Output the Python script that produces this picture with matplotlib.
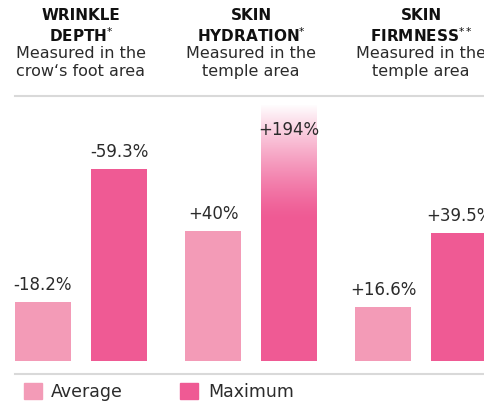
import numpy as np
import matplotlib.pyplot as plt
from matplotlib.patches import Patch
from matplotlib.lines import Line2D

plt.rcParams['font.family'] = ['DejaVu Sans']

# chart data
headers = ['WRINKLE\nDEPTH$^{*}$', 'SKIN\nHYDRATION$^{*}$', 'SKIN\nFIRMNESS$^{**}$']
subtitles = ['Measured in the\ncrow\u2018s foot area', 'Measured in the\ntemple area',
             'Measured in the\ntemple area']
average = [18.2, 40.0, 16.6]
maximum = [59.3, 194.0, 39.5]
avg_labels = ['-18.2%', '+40%', '+16.6%']
max_labels = ['-59.3%', '+194%', '+39.5%']

c_avg = '#F39BB7'
c_max = '#EF5A94'
txt = '#2b2b2b'
grid = '#d9d9d9'

fig = plt.figure(figsize=(4.85, 4.01), dpi=100)
ax = fig.add_axes([15 / 485, 40 / 401, 470 / 485, 257 / 401])
ymax = 79.3
ax.set_xlim(-0.388, 2.376)
ax.set_ylim(0, ymax)
ax.axis('off')

x = np.arange(len(average))
w = 0.329
off = 0.447 / 2
ax.bar(x - off, average, w, color=c_avg)
ax.bar(x + off, maximum, w, color=c_max)

lab = dict(ha='center', va='baseline', fontsize=12, color=txt,
           textcoords='offset points', zorder=4)
for i in range(len(x)):
    ax.annotate(avg_labels[i], (x[i] - off, average[i]), xytext=(0, 8.6), **lab)
    if maximum[i] < ymax:
        ax.annotate(max_labels[i], (x[i] + off, maximum[i]), xytext=(0, 8.6), **lab)
    else:
        # bar runs off the top: fade it out to white
        lo = 0.55 * ymax
        grad = np.zeros((100, 1, 4))
        grad[..., :3] = 1.0
        grad[:, 0, 3] = np.linspace(0, 1, 100) ** 1.3
        ax.imshow(grad, extent=(x[i] + off - w / 2, x[i] + off + w / 2, lo, ymax),
                  origin='lower', aspect='auto', zorder=3, interpolation='bilinear')
        ax.set_xlim(-0.388, 2.376)
        ax.set_ylim(0, ymax)
        ax.annotate(max_labels[i], (x[i] + off, ymax), xytext=(0, -22), **lab)

# headers above the chart
for i in range(len(x)):
    xf = ax.transData.transform((x[i], 0))[0] / fig.bbox.width
    fig.text(xf, 1 - 8 / 401, headers[i], ha='center', va='top', fontsize=11,
             fontweight='bold', color='#111111', linespacing=1.22)
    fig.text(xf, 1 - 46.5 / 401, subtitles[i], ha='center', va='top', fontsize=11.5,
             color=txt, linespacing=1.2)

# thin separator lines
fig.add_artist(Line2D([15 / 485, 1], [1 - 96 / 401] * 2, color=grid, lw=1.5))
fig.add_artist(Line2D([15 / 485, 1], [1 - 374 / 401] * 2, color=grid, lw=1.5))

handles = [Patch(color=c_avg, label='Average'), Patch(color=c_max, label='Maximum')]
fig.legend(handles=handles, loc='center left', bbox_to_anchor=(14 / 485 - 0.012, 1 - 392 / 401),
           ncol=2, frameon=False, fontsize=12.5, handlelength=1.03, handleheight=1.0,
           handletextpad=0.55, columnspacing=3.3, labelcolor=txt)

fig.savefig('out.png', dpi=100)
